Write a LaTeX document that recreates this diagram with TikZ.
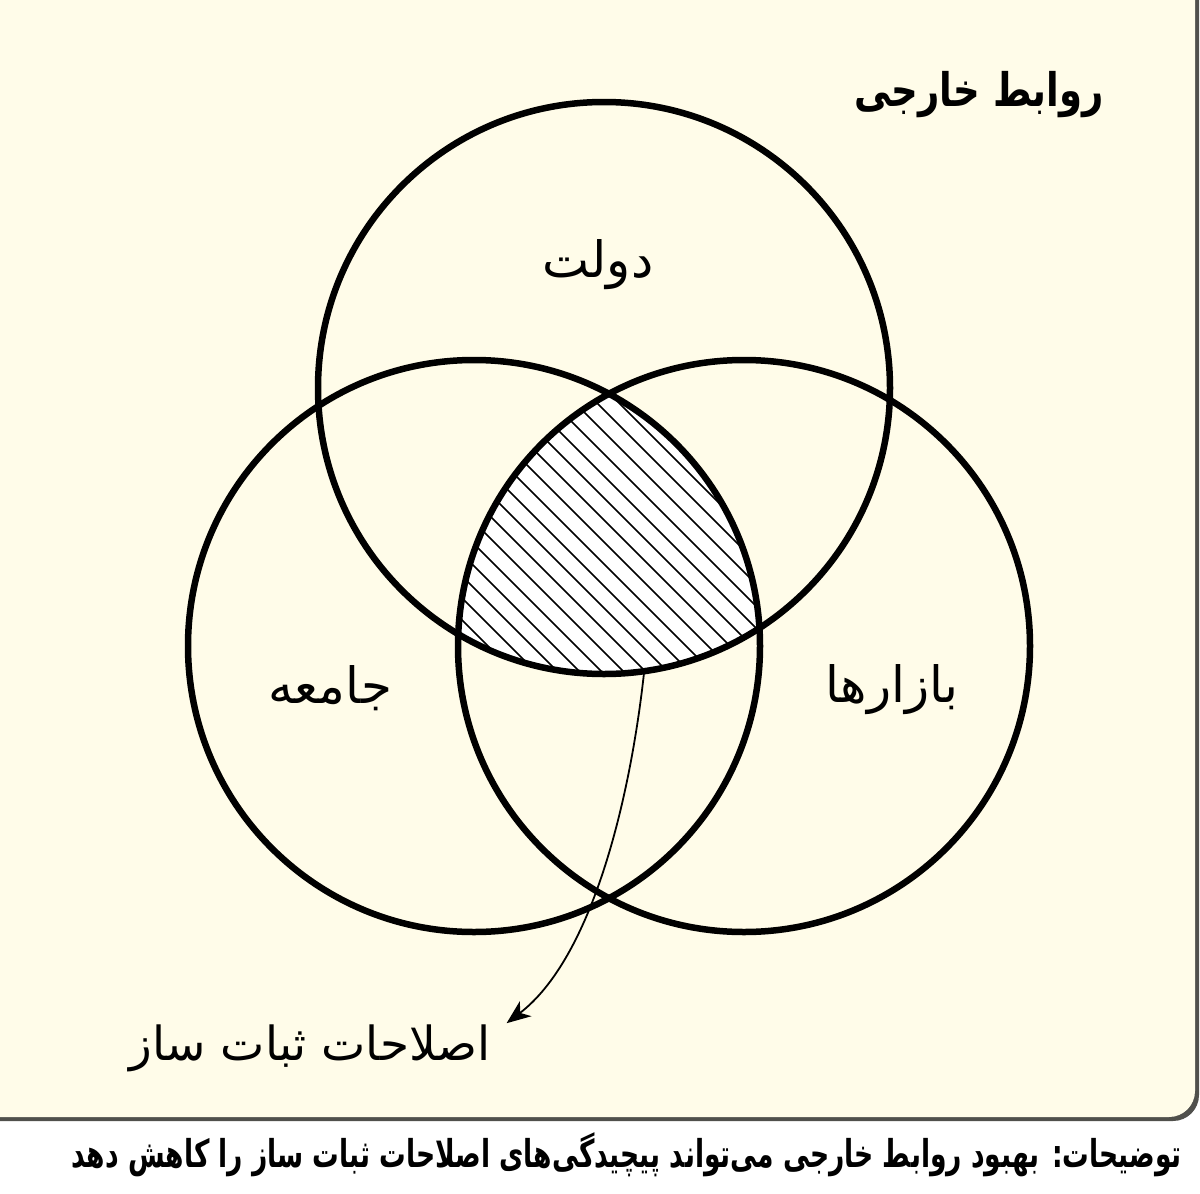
\documentclass[tikz,border=0pt]{standalone}
\usepackage{fontspec}
\usetikzlibrary{arrows.meta}
\TeXXeTstate=1
\newfontfamily\farsi[Script=Arabic]{DejaVu Sans}
\newfontfamily\farsicond[Script=Arabic]{DejaVu Sans Condensed}
\definecolor{paper}{RGB}{255,252,233}
\definecolor{edge}{RGB}{80,80,76}

\begin{document}
\begin{tikzpicture}
    [x=1pt, y=-1pt,
    % Circles of the three sets
    venn/.style={draw=black, line width=6.5pt},
    % Strokes of the hatching in the shared region
    hatch/.style={draw=black, line width=1.5pt},
    % Names of the sets
    setlabel/.style={font=\farsi\fontsize{50}{60}\selectfont, inner sep=2pt},
    % Heading in the top right corner
    headtext/.style={font=\farsi\bfseries\fontsize{37}{44}\selectfont, yscale=1.25, transform shape},
    % Note under the panel
    notetext/.style={font=\farsicond\bfseries\fontsize{29.5}{36}\selectfont, anchor=east, inner sep=0pt, yscale=1.3, transform shape},
    line/.style={draw, line width=1.8pt, -{Stealth[length=24pt, width=19pt, inset=7pt]}}]
    \useasboundingbox (0,0) rectangle (1200,1194);
    \fill[white] (0,0) rectangle (1200,1194);
    % Panel
    \fill[edge, rounded corners=26pt] (-40,-40) rectangle (1199,1121);
    \fill[paper, rounded corners=26pt] (-40,-40) rectangle (1195,1117);
    \node[headtext] (head) at (979,95) {\beginR روابط خارجی\endR};
    % Centres of the circles
    \coordinate (gov) at (604,388);
    \coordinate (soc) at (474,646);
    \coordinate (mkt) at (744,646);
    % Hatched core
    \begin{scope}
        \clip (gov) circle[radius=286];
        \clip (soc) circle[radius=286];
        \clip (mkt) circle[radius=286];
        \fill[white] (440,370) rectangle (780,700);
        \foreach \a in {112,134,...,790}
            \draw[hatch] (\a,380) -- ++(320,320);
    \end{scope}
    \draw[venn] (gov) circle[radius=286];
    \draw[venn] (soc) circle[radius=286];
    \draw[venn] (mkt) circle[radius=286];
    % Labels
    \node[setlabel] (govlabel) at (598,265) {\beginR دولت\endR};
    \node[setlabel] (soclabel) at (330,688) {\beginR جامعه\endR};
    \node[setlabel] (mktlabel) at (892,690) {\beginR بازارها\endR};
    \node[setlabel, font=\farsi\fontsize{47}{56}\selectfont, inner xsep=16pt, inner ysep=1pt] (reform) at (310,1048) {\beginR اصلاحات ثبات ساز\endR};
    % Pointer from the core to its name
    \coordinate (corebottom) at (644,673);
    \draw[line] (corebottom) .. controls (630,800) and (592,958) .. (reform.north east);
    \node[notetext] (note) at (1182,1155) {\beginR توضیحات: بهبود روابط خارجی می‌تواند پیچیدگی‌های اصلاحات ثبات ساز را کاهش دهد\endR};
\end{tikzpicture}
\end{document}
